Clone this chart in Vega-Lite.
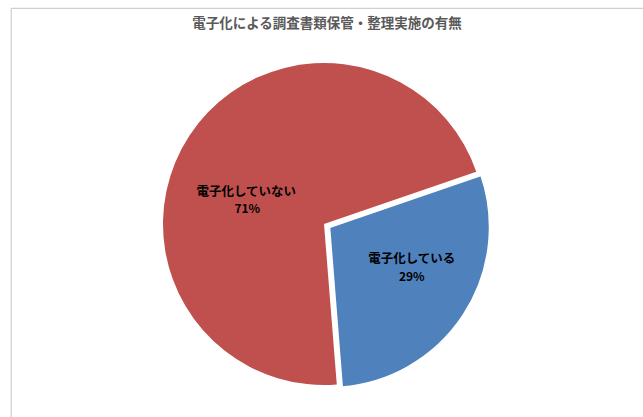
{
  "$schema": "https://vega.github.io/schema/vega-lite/v6.json",
  "width": 640,
  "height": 415,
  "autosize": {"type": "none"},
  "padding": {"left": 11, "top": 8, "right": 0, "bottom": 0},
  "background": "white",
  "view": {"stroke": "#d0d0d0", "strokeWidth": 1.2},
  "config": {
    "font": "Noto Sans CJK JP"
  },
  "title": {
    "text": "電子化による調査書類保管・整理実施の有無",
    "fontSize": 13.5,
    "fontWeight": "bold",
    "color": "#595959",
    "anchor": "middle",
    "frame": "group",
    "baseline": "middle",
    "offset": -29,
    "dx": -4
  },
  "data": {
    "values": [
      {"category": "電子化している", "pct": "29%", "value": 29, "ord": 1},
      {"category": "電子化していない", "pct": "71%", "value": 71, "ord": 2}
    ]
  },
  "encoding": {
    "theta": {"field": "value", "type": "quantitative", "stack": true, "scale": {"domain": [0, 100], "range": [1.24, 7.5232]}},
    "order": {"field": "ord", "type": "quantitative"}
  },
  "layer": [
    {
      "mark": {"type": "arc", "radius": 161, "xOffset": -7, "yOffset": 8.5, "color": "#C0504D"},
      "encoding": {"opacity": {"condition": {"test": "datum.ord == 2", "value": 1}, "value": 0}}
    },
    {
      "mark": {"type": "arc", "radius": 161, "xOffset": -2, "yOffset": 11.5, "color": "#4F81BD", "stroke": "white", "strokeWidth": 2.5},
      "encoding": {"opacity": {"condition": {"test": "datum.ord == 1", "value": 1}, "value": 0}}
    },
    {
      "mark": {"type": "text", "radius": 81, "xOffset": -17, "yOffset": 20.6, "fontSize": 12.5, "fontWeight": "bold", "color": "black", "baseline": "middle", "align": "center"},
      "encoding": {"text": {"field": "category"}, "opacity": {"condition": {"test": "datum.ord == 2", "value": 1}, "value": 0}}
    },
    {
      "mark": {"type": "text", "radius": 81, "xOffset": -16, "yOffset": 38, "fontSize": 12, "fontWeight": "bold", "color": "black", "baseline": "middle", "align": "center"},
      "encoding": {"text": {"field": "pct"}, "opacity": {"condition": {"test": "datum.ord == 2", "value": 1}, "value": 0}}
    },
    {
      "mark": {"type": "text", "radius": 93, "xOffset": 3, "yOffset": -7, "fontSize": 12.5, "fontWeight": "bold", "color": "black", "baseline": "middle", "align": "center"},
      "encoding": {"text": {"field": "category"}, "opacity": {"condition": {"test": "datum.ord == 1", "value": 1}, "value": 0}}
    },
    {
      "mark": {"type": "text", "radius": 93, "xOffset": 3, "yOffset": 11, "fontSize": 12, "fontWeight": "bold", "color": "black", "baseline": "middle", "align": "center"},
      "encoding": {"text": {"field": "pct"}, "opacity": {"condition": {"test": "datum.ord == 1", "value": 1}, "value": 0}}
    }
  ]
}
